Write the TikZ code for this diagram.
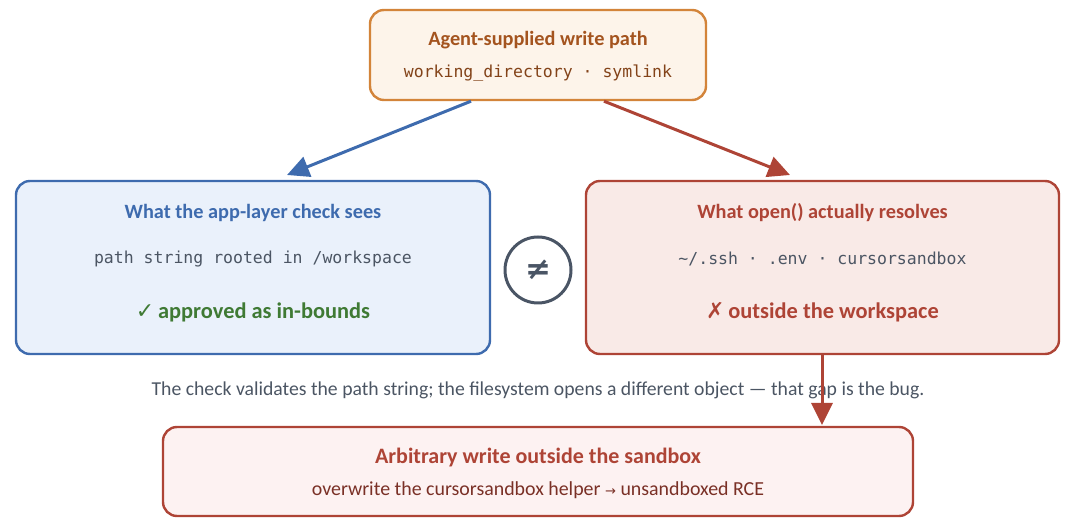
\documentclass[tikz,border=0pt]{standalone}
\usepackage{fontspec}
\setmainfont{Carlito}
\setmonofont{DejaVu Sans Mono}
\newfontfamily\symfont{DejaVu Sans}
\usetikzlibrary{arrows.meta}

\definecolor{inkblue}{HTML}{3E6BAE}
\definecolor{inkred}{HTML}{AE4436}
\definecolor{inkorange}{HTML}{D3843A}
\definecolor{txtorange}{HTML}{A4541F}
\definecolor{inkgreen}{HTML}{3F7A34}
\definecolor{inkgray}{HTML}{4A5565}
\definecolor{txtgray}{HTML}{4B5563}
\definecolor{fillorange}{HTML}{FDF4EA}
\definecolor{fillblue}{HTML}{EAF1FB}
\definecolor{fillred}{HTML}{F9EAE7}
\definecolor{fillpink}{HTML}{FDF2F2}

\begin{document}
\begin{tikzpicture}[x=1pt,y=-1pt]
    \tikzstyle{box}=[rectangle, rounded corners=14pt, line width=2.4pt, inner sep=0pt]
    \tikzstyle{title}=[font=\fontsize{20.3}{22}\selectfont\bfseries]
    \tikzstyle{code}=[font=\fontsize{16.5}{18}\selectfont\ttfamily]
    \tikzstyle{verdict}=[font=\fontsize{22.4}{24}\selectfont\bfseries]
    \tikzstyle{flow}=[line width=3pt, -{Triangle[length=22pt,width=21pt]}]

    \useasboundingbox (0,0) rectangle (1072,526);

    % boxes
    \node[box, draw=inkorange, fill=fillorange, minimum width=336pt, minimum height=90pt] (src) at (538,55) {};
    \node[box, draw=inkblue, fill=fillblue, minimum width=474pt, minimum height=173pt] (seen) at (253,267.5) {};
    \node[box, draw=inkred, fill=fillred, minimum width=473pt, minimum height=173pt] (real) at (822.5,267.5) {};
    \node[box, draw=inkred, fill=fillpink, minimum width=750pt, minimum height=89pt] (impact) at (538,471.5) {};
    \node[circle, draw=inkgray, line width=3pt, minimum size=66pt, inner sep=0pt] (neq) at (538,270) {};

    % texts
    \node[title, text=txtorange] (srctitle) at (538,40) {Agent-supplied write path};
    \node[code, text=txtorange!80!black] (srccode) at (538,73) {working\_directory · symlink};
    \node[title, text=inkblue] (seentitle) at (253,213) {What the app-layer check sees};
    \node[code, text=txtgray] (seencode) at (253,259) {path string rooted in /workspace};
    \node[verdict, text=inkgreen] (seenok) at (253,312) {{\symfont\mdseries\fontsize{22}{24}\selectfont ✓}\,approved as in-bounds};
    \node[title, text=inkred] (realtitle) at (822.5,213) {What open() actually resolves};
    \node[code, text=txtgray] (realcode) at (822.5,259) {\textasciitilde/.ssh · .env · cursorsandbox};
    \node[verdict, text=inkred] (realbad) at (822.5,312) {{\symfont\mdseries\fontsize{22}{24}\selectfont ✗}\,outside the workspace};
    \node[text=inkgray, font=\symfont\bfseries\fontsize{31}{33}\selectfont] (neqsign) at (538,270) {≠};
    \node[font=\fontsize{19.7}{21}\selectfont, text=txtgray] (note) at (538,390) {The check validates the path string; the filesystem opens a different object — that gap is the bug.};
    \node[font=\fontsize{22}{24}\selectfont\bfseries, text=inkred] (impacttitle) at (538,458) {Arbitrary write outside the sandbox};
    \node[font=\fontsize{19.9}{21}\selectfont, text=inkred!70!black] (impactsub) at (538,490) {overwrite the cursorsandbox helper {\symfont\fontsize{13}{15}\selectfont →} unsandboxed RCE};

    % connectors
    \coordinate (seenin) at (287,175);
    \coordinate (realin) at (790,175);
    \coordinate (impactin) at (822,425);
    \draw[flow, inkblue] (src.south -| 471,0) -- (seenin);
    \draw[flow, inkred] (src.south -| 604,0) -- (realin);
    \draw[flow, inkred] (real.south -| impactin) -- (impactin);
\end{tikzpicture}
\end{document}
